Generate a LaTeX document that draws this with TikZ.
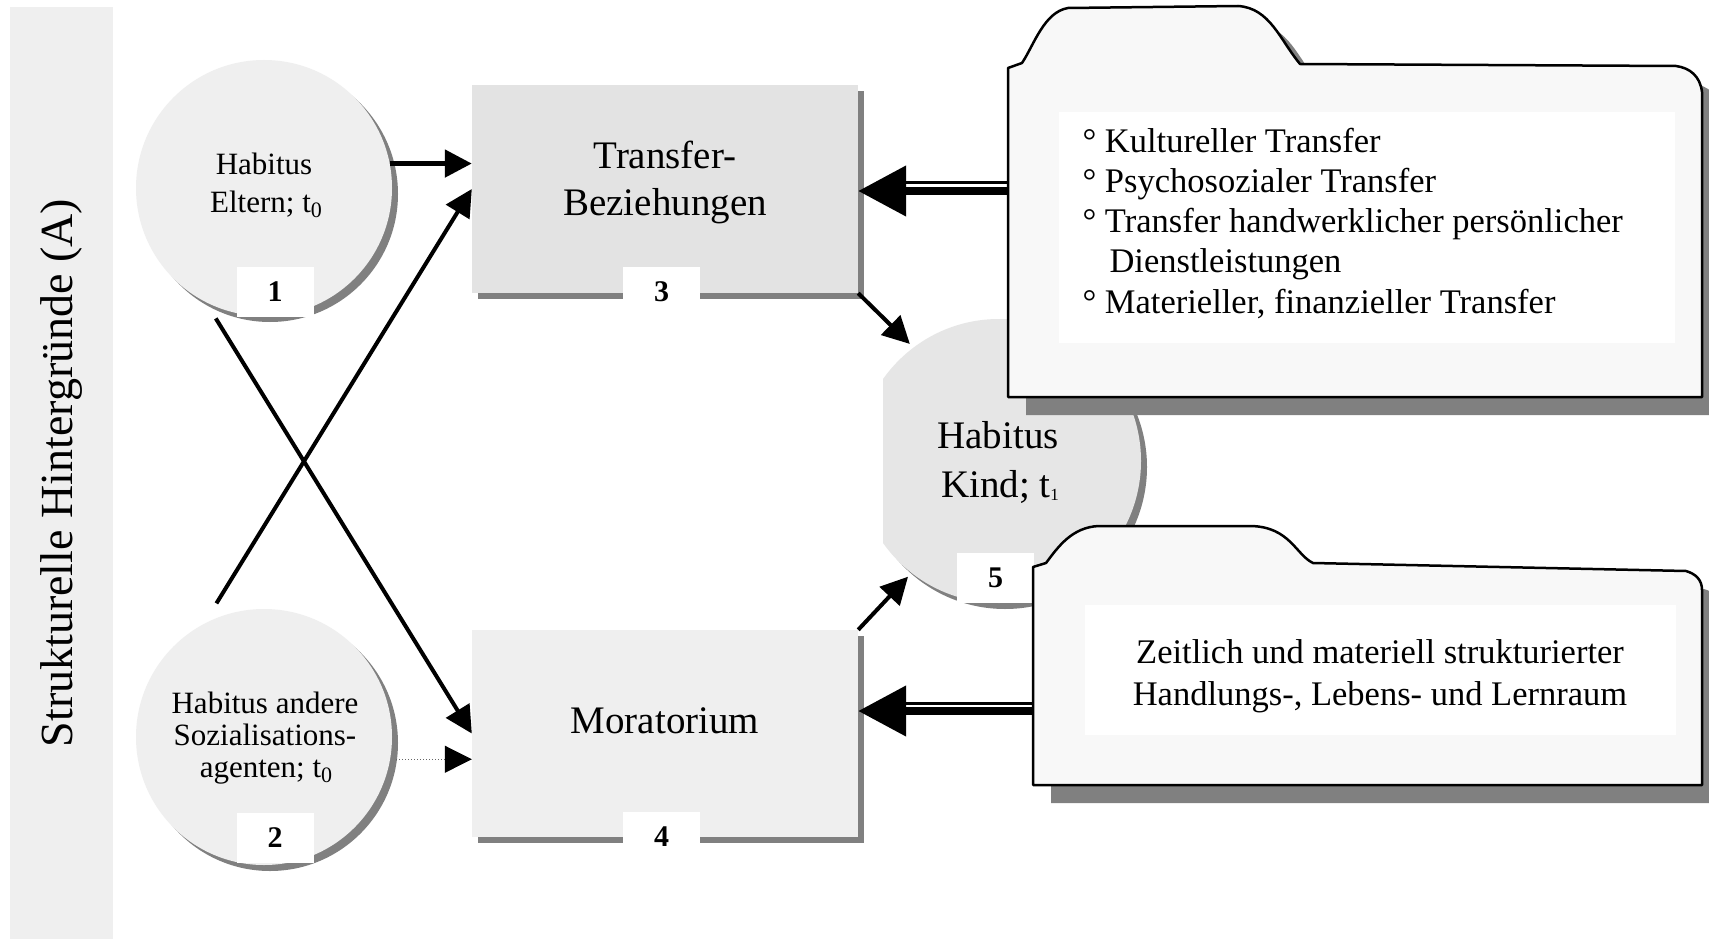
\documentclass[tikz,border=0pt]{standalone}
\usepackage{fontspec}
\setmainfont{Liberation Serif}
\usetikzlibrary{arrows.meta,shadows}

\definecolor{barfill}{HTML}{EFEFEF}
\definecolor{circfill}{HTML}{EFEFEF}
\definecolor{kindfill}{HTML}{E6E6E6}
\definecolor{transfill}{HTML}{E3E3E3}
\definecolor{morafill}{HTML}{EFEFEF}
\definecolor{foldfill}{HTML}{F8F8F8}
\definecolor{shade}{HTML}{808080}

% lowered index digit: size, drop, text
\newcommand\lowidx[3]{\raisebox{-#2pt}{\fontsize{#1}{#1}\selectfont #3}}

\tikzset{
  fs/.style={font=\fontsize{#1}{#1}\selectfont},
  habcirc/.style={circle, inner sep=0pt, minimum size=#1,
    drop shadow={shadow xshift=6pt, shadow yshift=-6pt, fill=shade, opacity=1}},
  panel/.style={rectangle, inner sep=0pt,
    drop shadow={shadow xshift=6pt, shadow yshift=-6pt, fill=shade, opacity=1}},
  numlabel/.style={fill=white, minimum width=77pt, minimum height=50pt,
    inner sep=0pt, font=\fontsize{30}{30}\selectfont\bfseries},
  folder/.style={draw=black, line width=2.5pt, fill=foldfill, line join=round,
    drop shadow={shadow xshift=18pt, shadow yshift=-18pt, fill=shade, opacity=1}},
  conn/.style={line width=4pt, -{Triangle[length=27pt,width=27pt]}},
  dotconn/.style={line width=1pt, draw=black!60, dotted,
    -{Triangle[length=27pt,width=27pt,color=black]}},
  bigarrow/.style={line width=8pt, -{Triangle[length=48pt,width=49pt]}},
  thinrail/.style={line width=3pt},
}

\begin{document}
\begin{tikzpicture}[x=1pt,y=-1pt]
\useasboundingbox (0,0) rectangle (1709,939);
\fill[white] (0,0) rectangle (1709,939);

% side bar
\fill[barfill] (10,7) rectangle (113,939);
\node[rotate=90, anchor=base, fs=46] (bar) at (72,473) {Strukturelle Hintergründe (A)};

% parents and other agents
\node[habcirc=256pt, fill=circfill] (c1) at (264,188) {};
\node[habcirc=256pt, fill=circfill] (c2) at (264,737) {};
\node[fs=31, anchor=base] (c1a) at (264,175) {Habitus};
\node[fs=31, anchor=base] (c1b) at (266,212) {Eltern; t\lowidx{22}{5}{0}};
\node[fs=31, anchor=base] (c2a) at (265,713) {Habitus andere};
\node[fs=31, anchor=base] (c2b) at (265,745) {Sozialisations-};
\node[fs=31, anchor=base] (c2c) at (266,777) {agenten; t\lowidx{22}{5}{0}};

% transfer relations and moratorium
\node[panel, fill=transfill, minimum width=386pt, minimum height=208pt] (b3) at (665,189) {};
\node[panel, fill=morafill, minimum width=386pt, minimum height=207pt] (b4) at (665,733.5) {};
\node[fs=39, anchor=base] (b3a) at (665,168) {Transfer-};
\node[fs=39, anchor=base] (b3b) at (665,215) {Beziehungen};
\node[fs=39, anchor=base] (b4a) at (665,733) {Moratorium};

% number tags
\node[numlabel] (n1) at (275,292) {1};
\node[numlabel] (n2) at (275,837.5) {2};
\node[numlabel] (n3) at (661.5,292) {3};
\node[numlabel] (n4) at (661.5,837) {4};

% child habitus
\node[habcirc=284pt, fill=kindfill] (c5) at (999,461) {};
\fill[white] (852,370) rectangle (883,552);
\node[fs=39, anchor=base] (c5a) at (998,448) {Habitus};
\node[fs=39, anchor=base] (c5b) at (1000,497) {Kind; t\lowidx{17}{3}{1}};
\node[numlabel] (n5) at (995.5,578) {5};

% connectors
\draw[conn, line width=5pt] (c1.11) -- (c1.11 -| b3.west);
\draw[conn, shorten <=24pt] (c2.118) -- (b3.west);
\draw[conn, shorten <=19pt] (c1.243) -- (b4.west);
\draw[dotconn, shorten <=6pt] (c2.-10) -- (c2.-10 -| b4.west);
\draw[conn, shorten >=5pt] (b3.south east) -- (c5.127);
\draw[conn, shorten >=5pt] (b4.north east) -- (c5.232);

% folder with transfer types
\path[folder] (1008,397) -- (1008,68) -- (1022,63)
  .. controls (1034,45) and (1044,12) .. (1068,8) -- (1238,6)
  .. controls (1270,8) and (1280,40) .. (1300,64) -- (1676,66)
  .. controls (1690,68) and (1700,76) .. (1702,92) -- (1702,397) -- cycle;
\fill[white] (1059,112) rectangle (1675,343);
\node[fs=34.5, anchor=base west] (f1a) at (1079,153) {° Kultureller Transfer};
\node[fs=34.5, anchor=base west] (f1b) at (1079,193) {° Psychosozialer Transfer};
\node[fs=34.5, anchor=base west] (f1c) at (1079,232) {° Transfer handwerklicher persönlicher};
\node[fs=34.5, anchor=base west] (f1d) at (1106,272) {Dienstleistungen};
\node[fs=34.5, anchor=base west] (f1e) at (1079,313) {° Materieller, finanzieller Transfer};

% folder with learning space
\path[folder] (1033,785) -- (1033,567) -- (1046,563)
  .. controls (1058,547) and (1072,527) .. (1099,526) -- (1251,526)
  .. controls (1290,527) and (1296,555) .. (1313,563) -- (1686,571)
  .. controls (1696,574) and (1702,580) .. (1702,590) -- (1702,785) -- cycle;
\fill[white] (1085,605) rectangle (1676,735);
\node[fs=34.5, anchor=base] (f2a) at (1380,663) {Zeitlich und materiell strukturierter};
\node[fs=34.5, anchor=base] (f2b) at (1380,705) {Handlungs-, Lebens- und Lernraum};

% double arrows from the folders
\coordinate (f1in) at (1008,191);
\coordinate (f1hd) at (f1in -| b3.east);
\draw[bigarrow] (f1in) -- (f1hd);
\draw[thinrail] ([yshift=8pt]f1in) -- ([xshift=48pt,yshift=8pt]f1hd);

\coordinate (f2in) at (1033,711);
\coordinate (f2hd) at (f2in -| b4.east);
\draw[bigarrow] (f2in) -- (f2hd);
\draw[thinrail] ([yshift=7.5pt]f2in) -- ([xshift=48pt,yshift=7.5pt]f2hd);
\end{tikzpicture}
\end{document}
